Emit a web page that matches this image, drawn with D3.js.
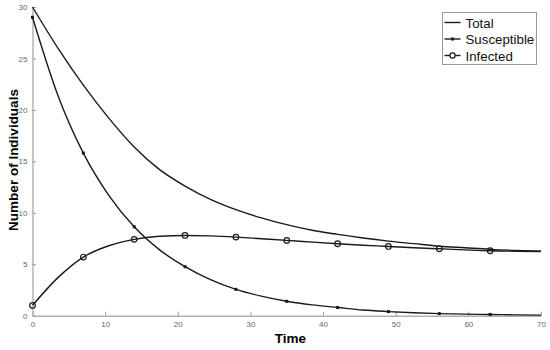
<!DOCTYPE html>
<html>
<head>
<meta charset="utf-8">
<script src="https://cdn.jsdelivr.net/npm/d3@7"></script>
<style>
  body { margin: 0; background: #fff; }
  svg { display: block; font-family: "Liberation Sans", Arial, sans-serif; }
</style>
</head>
<body>
<div id="chart"></div>
<script>
// time points (every 3.5), markers drawn at every 7
const times = [0, 3.5, 7, 10.5, 14, 17.5, 21, 24.5, 28, 31.5, 35, 38.5, 42, 45.5, 49, 52.5, 56, 59.5, 63, 66.5, 70];
const total = [30, 26.0, 22.4, 19.2, 16.4, 14.2, 12.6, 11.3, 10.3, 9.5, 8.85, 8.3, 7.9, 7.55, 7.25, 7.0, 6.75, 6.6, 6.45, 6.35, 6.28];
const susceptible = [29, 21.4, 15.8, 11.7, 8.64, 6.4, 4.76, 3.5, 2.56, 1.9, 1.4, 1.05, 0.8, 0.55, 0.4, 0.28, 0.2, 0.15, 0.12, 0.08, 0.06];
const infected = [1.0, 3.7, 5.7, 6.8, 7.42, 7.72, 7.8, 7.76, 7.64, 7.48, 7.32, 7.15, 6.99, 6.85, 6.73, 6.6, 6.5, 6.4, 6.31, 6.27, 6.24];
const markerTimes = [0, 7, 14, 21, 28, 35, 42, 49, 56, 63];
const xTicks = [0, 10, 20, 30, 40, 50, 60, 70];
const yTicks = [0, 5, 10, 15, 20, 25, 30];
const seriesNames = ["Total", "Susceptible", "Infected"];

const width = 550, height = 350;
const margin = { left: 32.5, right: 9, top: 7, bottom: 34.3 };

const svg = d3.select("#chart").append("svg")
    .attr("width", width)
    .attr("height", height);

const x = d3.scaleLinear().domain([0, 70]).range([margin.left, width - margin.right]);
const y = d3.scaleLinear().domain([0, 30]).range([height - margin.bottom, margin.top]);

// axes
const gx = svg.append("g")
    .attr("transform", `translate(0,${y(0)})`)
    .call(d3.axisBottom(x).tickValues(xTicks).tickSizeInner(-4).tickSizeOuter(0).tickPadding(6));
const gy = svg.append("g")
    .attr("transform", `translate(${x(0)},0)`)
    .call(d3.axisLeft(y).tickValues(yTicks).tickSizeInner(-3.5).tickSizeOuter(0).tickPadding(5));

[gx, gy].forEach(g => {
    g.select(".domain").attr("stroke", "#b0b0b0").attr("stroke-width", 1.4);
    g.selectAll(".tick line").attr("stroke", "#999");
    g.selectAll(".tick text").attr("fill", "#666").attr("font-size", 8)
        .attr("font-family", "'Liberation Sans', Arial, sans-serif");
});

// axis titles
svg.append("text")
    .attr("x", x(35.5)).attr("y", 343)
    .attr("text-anchor", "middle")
    .attr("font-weight", "bold").attr("font-size", 13.5)
    .text("Time");
svg.append("text")
    .attr("transform", `translate(18,160) rotate(-90)`)
    .attr("text-anchor", "middle")
    .attr("font-weight", "bold").attr("font-size", 13.5)
    .text("Number of Individuals");

const line = d3.line()
    .x((d, i) => x(times[i]))
    .y(d => y(d))
    .curve(d3.curveMonotoneX);

const ink = "#1a1a1a";
[total, susceptible, infected].forEach(vals => {
    svg.append("path")
        .attr("d", line(vals))
        .attr("fill", "none")
        .attr("stroke", ink)
        .attr("stroke-width", 1.4);
});

const atMarker = (vals) => markerTimes.map(t => ({ t, v: vals[times.indexOf(t)] }));

// susceptible markers: small filled squares
svg.append("g").selectAll("rect")
    .data(atMarker(susceptible))
    .join("rect")
    .attr("x", d => x(d.t) - 1.5)
    .attr("y", d => y(d.v) - 1.5)
    .attr("width", 3).attr("height", 3)
    .attr("fill", ink);

// infected markers: open circles
svg.append("g").selectAll("circle")
    .data(atMarker(infected))
    .join("circle")
    .attr("cx", d => x(d.t))
    .attr("cy", d => y(d.v))
    .attr("r", 2.8)
    .attr("fill", "none")
    .attr("stroke", ink)
    .attr("stroke-width", 1.2);

// legend
const legend = svg.append("g").attr("transform", "translate(442.5,12.5)");
legend.append("rect")
    .attr("width", 94).attr("height", 52)
    .attr("fill", "#fff").attr("stroke", "#999").attr("stroke-width", 1);

seriesNames.forEach((name, i) => {
    const cy = 10 + i * 16.5;
    legend.append("line")
        .attr("x1", 2).attr("x2", 18).attr("y1", cy).attr("y2", cy)
        .attr("stroke", ink).attr("stroke-width", 1.4);
    if (name === "Susceptible") {
        legend.append("rect").attr("x", 8.5).attr("y", cy - 1.5)
            .attr("width", 3).attr("height", 3).attr("fill", ink);
    }
    if (name === "Infected") {
        legend.append("circle").attr("cx", 10).attr("cy", cy).attr("r", 2.6)
            .attr("fill", "#fff").attr("stroke", ink).attr("stroke-width", 1.2);
    }
    legend.append("text")
        .attr("x", 23).attr("y", cy + 5)
        .attr("font-size", 13.3).attr("fill", "#111")
        .text(name);
});
</script>
</body>
</html>
